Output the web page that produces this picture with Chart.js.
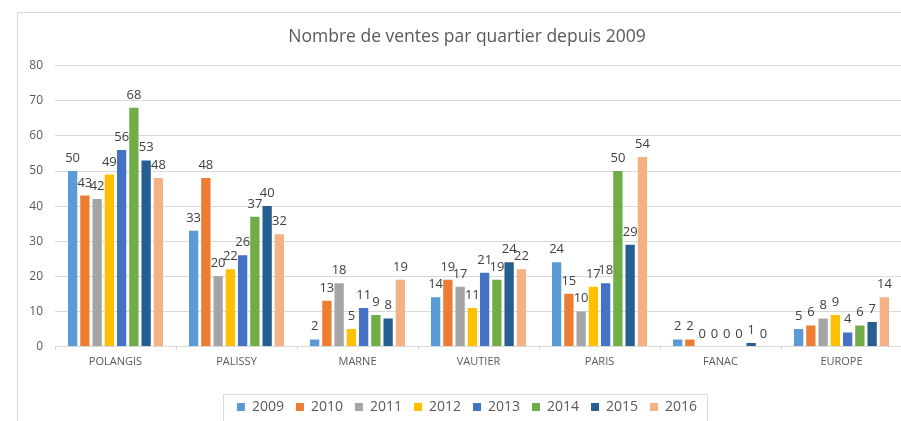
<!DOCTYPE html>
<html>
<head>
<meta charset="utf-8">
<script src="https://cdn.jsdelivr.net/npm/chart.js@4.4.1/dist/chart.umd.min.js"></script>
<style>
  html, body { margin: 0; padding: 0; background: #fff; }
  #wrap { width: 901px; height: 421px; overflow: hidden; position: relative; }
  #chart { display: block; }
</style>
</head>
<body>
<div id="wrap"><canvas id="chart" width="934" height="430"></canvas></div>
<script>
const quartiers = ['POLANGIS', 'PALISSY', 'MARNE', 'VAUTIER', 'PARIS', 'FANAC', 'EUROPE'];
const years = ['2009', '2010', '2011', '2012', '2013', '2014', '2015', '2016'];

const ventes2009 = [50, 33, 2, 14, 24, 2, 5];
const ventes2010 = [43, 48, 13, 19, 15, 2, 6];
const ventes2011 = [42, 20, 18, 17, 10, 0, 8];
const ventes2012 = [49, 22, 5, 11, 17, 0, 9];
const ventes2013 = [56, 26, 11, 21, 18, 0, 4];
const ventes2014 = [68, 37, 9, 19, 50, 0, 6];
const ventes2015 = [53, 40, 8, 24, 29, 1, 7];
const ventes2016 = [48, 32, 19, 22, 54, 0, 14];

const yMin = 0, yMax = 80, yStep = 10;

const series = [ventes2009, ventes2010, ventes2011, ventes2012, ventes2013, ventes2014, ventes2015, ventes2016];
const colors = ['#5B9BD5', '#ED7D31', '#A5A5A5', '#FFC000', '#4472C4', '#70AD47', '#255E91', '#F4B183'];

const FONT = "'Open Sans', 'DejaVu Sans', sans-serif";
const GRID = '#d9d9d9';
const TEXT = '#595959';

// white background + outer frame of the chart
const framePlugin = {
    id: 'frame',
    beforeDraw: chart => {
        const ctx = chart.ctx;
        ctx.save();
        ctx.fillStyle = '#fff';
        ctx.fillRect(0, 0, chart.width, chart.height);
        ctx.strokeStyle = GRID;
        ctx.lineWidth = 1;
        ctx.beginPath();
        ctx.moveTo(17.5, chart.height);
        ctx.lineTo(17.5, 12.5);
        ctx.lineTo(chart.width - 17, 12.5);
        ctx.stroke();
        ctx.restore();
    },
    afterDraw: chart => {
        // box around the legend
        const hb = chart.legend && chart.legend.legendHitBoxes;
        if (!hb || !hb.length) return;
        const first = hb[0], last = hb[hb.length - 1];
        const ctx = chart.ctx;
        ctx.save();
        ctx.strokeStyle = GRID;
        ctx.lineWidth = 1;
        const left = Math.round(first.left - 14) + 0.5;
        const right = Math.round(last.left + last.width + 10) + 0.5;
        const top = Math.round(first.top - 6) + 0.5;
        ctx.beginPath();
        ctx.moveTo(left, chart.height);
        ctx.lineTo(left, top);
        ctx.lineTo(right, top);
        ctx.lineTo(right, chart.height);
        ctx.stroke();
        ctx.restore();
    }
};

// value written above each bar
const valueLabels = {
    id: 'valueLabels',
    afterDatasetsDraw: chart => {
        const ctx = chart.ctx;
        ctx.save();
        ctx.font = '13px ' + FONT;
        ctx.fillStyle = '#404040';
        ctx.textAlign = 'center';
        ctx.textBaseline = 'alphabetic';
        chart.data.datasets.forEach((ds, i) => {
            const meta = chart.getDatasetMeta(i);
            if (meta.hidden) return;
            meta.data.forEach((bar, j) => {
                ctx.fillText(String(ds.data[j]), bar.x, bar.y - 9);
            });
        });
        ctx.restore();
    }
};

new Chart(document.getElementById('chart').getContext('2d'), {
    type: 'bar',
    data: {
        labels: quartiers,
        datasets: years.map((y, i) => ({
            label: y,
            data: series[i],
            backgroundColor: colors[i],
            borderWidth: 0,
            yAxisID: 'y',
            barPercentage: 0.76,
            categoryPercentage: 0.81
        }))
    },
    options: {
        responsive: false,
        animation: false,
        layout: { padding: { left: 17, right: 17, top: 12, bottom: 6 } },
        plugins: {
            title: {
                display: true,
                text: 'Nombre de ventes par quartier depuis 2009',
                color: TEXT,
                font: { family: FONT, size: 17.5, weight: 'normal' },
                padding: { top: 15, bottom: 17.7 }
            },
            legend: {
                position: 'bottom',
                labels: {
                    boxWidth: 8,
                    boxHeight: 8,
                    padding: 12,
                    color: TEXT,
                    font: { family: FONT, size: 14 }
                }
            },
            tooltip: { enabled: false }
        },
        scales: {
            x: {
                grid: { display: true, drawOnChartArea: false, drawTicks: true, tickLength: 4, color: GRID },
                border: { display: true, color: GRID },
                ticks: { color: TEXT, padding: 5, font: { family: FONT, size: 11 } },
                afterFit: s => { s.height = 41.5; }
            },
            y: {
                min: yMin,
                max: yMax,
                ticks: { stepSize: yStep, color: TEXT, padding: 12, font: { family: FONT, size: 12 } },
                grid: { color: GRID, drawTicks: false },
                border: { display: false },
                afterFit: s => { s.width = 38; }
            },
            yRight: {
                type: 'linear',
                position: 'right',
                grid: { display: false },
                border: { display: false },
                ticks: { display: false },
                afterFit: s => { s.width = 15; }
            }
        }
    },
    plugins: [framePlugin, valueLabels]
});
</script>
</body>
</html>
